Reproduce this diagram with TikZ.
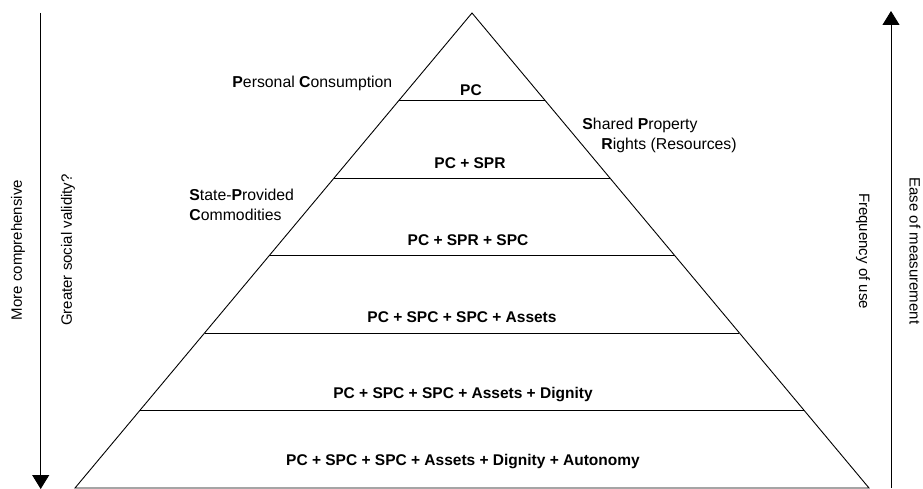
\documentclass[tikz,border=0pt]{standalone}
\usepackage{fontspec}
\setmainfont{Liberation Sans}
\usetikzlibrary{arrows.meta,calc}
\begin{document}
\begin{tikzpicture}[
    x=1pt, y=-1pt,
    line width=0.9pt,
    txt/.style={font=\fontsize{15}{20}\selectfont, inner sep=0pt},
    tier/.style={txt, font=\fontsize{15.5}{20}\selectfont\bfseries},
    side/.style={txt, font=\fontsize{15.8}{20.5}\selectfont, anchor=west, align=left},
    axis/.style={-{Triangle[width=17pt,length=14pt]}}
]
  \useasboundingbox (0,0) rectangle (923,489);
  % the pyramid
  \coordinate (apex) at (472,13);
  \coordinate (bl) at (75,488);
  \coordinate (br) at (869,488);
  \draw (apex) -- (bl) -- (br) -- cycle;
  \foreach \t in {0.1846,0.3474,0.5105,0.6737,0.8373}
    \draw ($(apex)!\t!(bl)$) -- ($(apex)!\t!(br)$);

  \node[tier] (pc) at (471,90) {PC};
  \node[tier] (pcspr) at (470,163) {PC + SPR};
  \node[tier] (pcsprspc) at (468,240) {PC + SPR + SPC};
  \node[tier] (assets) at (462,317) {PC + SPC + SPC + Assets};
  \node[tier] (dignity) at (463,395) {PC + SPC + SPC + Assets + Dignity};
  \node[tier] (autonomy) at (463,462) {PC + SPC + SPC + Assets + Dignity + Autonomy};

  % what the letters stand for
  \node[side] (persc) at (232,83) {\textbf{P}ersonal \textbf{C}onsumption};
  \node[side] (shpr) at (582,135.5) {\textbf{S}hared \textbf{P}roperty\\\hspace{19pt}\textbf{R}ights (Resources)};
  \node[side] (stpc) at (189,205) {\textbf{S}tate-\textbf{P}rovided\\\textbf{C}ommodities};

  % the two axes
  \coordinate (ltop) at (40.7,13);
  \coordinate (lbot) at (40.7,489);
  \draw[axis] (ltop) -- (lbot);
  \coordinate (rbot) at (891,488);
  \coordinate (rtop) at (891,11);
  \draw[axis] (rbot) -- (rtop);

  \node[txt, rotate=90] (comp) at (18,250) {More comprehensive};
  \node[txt, rotate=90] (valid) at (68,250) {Greater social validity?};
  \node[txt, rotate=-90] (freq) at (863,251) {Frequency of use};
  \node[txt, rotate=-90] (ease) at (915,251) {Ease of measurement};
\end{tikzpicture}
\end{document}
